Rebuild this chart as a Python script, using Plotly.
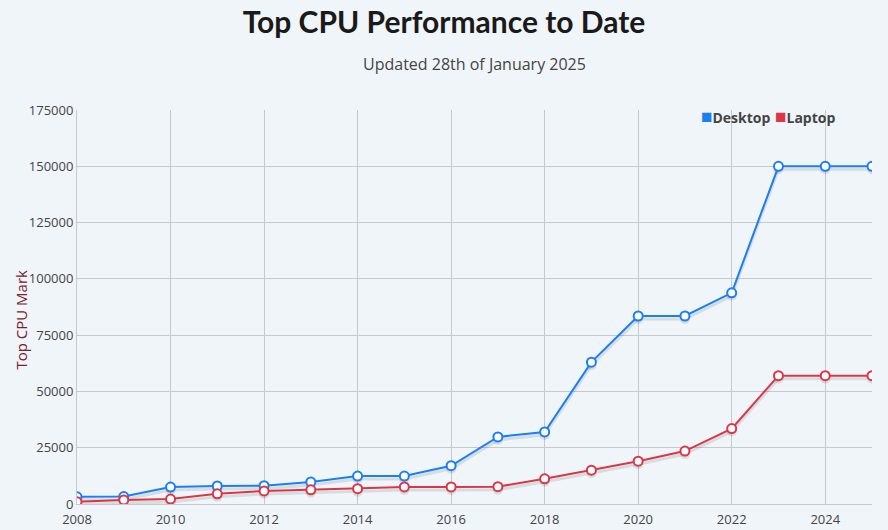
import plotly.graph_objects as go

# Jahre und Top-CPU-Mark-Werte
years = list(range(2008, 2026))
desktop = [3200, 3300, 7500, 8000, 8100, 9800, 12400, 12400, 17000, 29800,
           32000, 63000, 83500, 83500, 93800, 150000, 150000, 150000]
laptop = [1000, 1800, 2200, 4500, 5800, 6300, 6800, 7600, 7600, 7700,
          11200, 15000, 19000, 23500, 33500, 57000, 57000, 57000]

series = [("Desktop", desktop, "#1a7ff5"), ("Laptop", laptop, "#dc3545")]

y_max = 175000
shadow_shift = 3 / 394 * y_max  # Schatten ca. 3 px tiefer

fig = go.Figure()

# leere Spur, damit die Basis-Achse (Gitter + Beschriftung) gezeichnet wird
fig.add_trace(go.Scatter(x=[None], y=[None], mode="markers", hoverinfo="skip",
                         showlegend=False))

# Schatten unter den Linien (eigene, leicht verschobene y-Achse)
for name, values, color in series:
    fig.add_trace(go.Scatter(
        x=years, y=values, mode="lines+markers", yaxis="y2",
        line=dict(color="rgba(0,0,0,0.10)", width=3),
        marker=dict(size=10, color="rgba(0,0,0,0.10)"),
        hoverinfo="skip", showlegend=False
    ))

# eigentliche Linien oben drauf
for name, values, color in series:
    fig.add_trace(go.Scatter(
        x=years, y=values, mode="lines+markers", name=name, yaxis="y3",
        line=dict(color=color, width=2),
        marker=dict(size=9, color="white", line=dict(color=color, width=2)),
        showlegend=False
    ))

# Legende oben rechts (Quadrat + fetter Name)
legend_x = [0.783, 0.876]
legend = [
    dict(text=f"<span style='color:{color};font-size:19px'>■</span><b>{name}</b>",
         xref="paper", yref="paper", x=lx, y=1.0, yshift=-6,
         xanchor="left", yanchor="middle", showarrow=False,
         font=dict(size=14, color="#444"))
    for (name, values, color), lx in zip(series, legend_x)
]

fig.update_layout(
    width=888, height=530,
    paper_bgcolor="#f0f5f9", plot_bgcolor="#f0f5f9",
    margin=dict(l=77, r=16, t=110, b=26),
    font=dict(family="Open Sans", color="#444", size=13),
    title=dict(text="<b>Top CPU Performance to Date</b>", x=0.5, xanchor="center",
               y=0.958, yanchor="middle",
               font=dict(family="Lato", size=30, color="#1a1a1a")),
    annotations=[
        dict(text="Updated 28th of January 2025", xref="paper", yref="paper",
             x=0.5, y=1.0, yshift=46, xanchor="center", yanchor="middle",
             showarrow=False, font=dict(size=16, color="#444")),
        dict(text="Top CPU Mark", xref="paper", yref="paper", x=-0.071, y=0.467,
             textangle=-90, xanchor="center", yanchor="middle", showarrow=False,
             font=dict(size=15, color="#7a2030")),
    ] + legend,
    xaxis=dict(range=[2008, 2025], dtick=2, tick0=2008, showgrid=True,
               gridcolor="#c5c8cc", zeroline=False, showline=True,
               linecolor="#c5c8cc", ticks="", automargin=False,
               ticklabelstandoff=3, tickfont=dict(size=13, color="#444")),
    yaxis=dict(range=[0, y_max], dtick=25000, showgrid=True, gridcolor="#c5c8cc",
               zeroline=False, showline=True, linecolor="#c5c8cc", automargin=False,
               tickformat="d", ticks="", tickfont=dict(size=13, color="#444")),
    yaxis2=dict(range=[shadow_shift, y_max + shadow_shift], overlaying="y",
                visible=False, showgrid=False),
    yaxis3=dict(range=[0, y_max], overlaying="y", visible=False, showgrid=False),
    showlegend=False,
)

fig.write_html("out.html", config={"displayModeBar": False},
               post_script="document.body.style.margin='0';")
